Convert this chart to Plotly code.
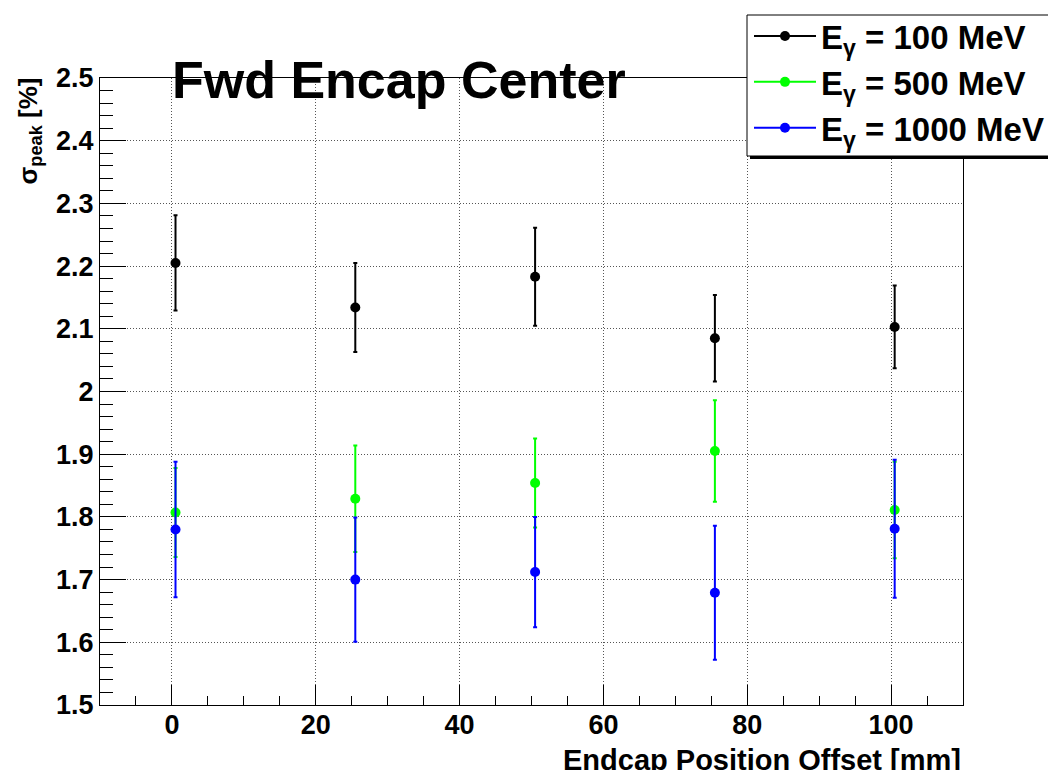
import plotly.graph_objects as go

# ---------------- data ----------------
offsets = [0.5, 25.5, 50.5, 75.5, 100.5]

sigma_100 = [2.205, 2.134, 2.183, 2.085, 2.103]
err_100 = [0.076, 0.071, 0.078, 0.069, 0.066]

sigma_500 = [1.807, 1.829, 1.854, 1.905, 1.811]
err_500 = [0.071, 0.085, 0.071, 0.081, 0.077]

sigma_1000 = [1.780, 1.700, 1.712, 1.679, 1.781]
err_1000 = [0.108, 0.099, 0.088, 0.107, 0.110]

series_names = ["E<sub>γ</sub> = 100 MeV", "E<sub>γ</sub> = 500 MeV", "E<sub>γ</sub> = 1000 MeV"]
series_colors = ["#000000", "#00ff00", "#0000ff"]

x_tickvals = [0, 20, 40, 60, 80, 100]
x_ticktext = ["0", "20", "40", "60", "80", "100"]
y_tickvals = [1.5, 1.6, 1.7, 1.8, 1.9, 2.0, 2.1, 2.2, 2.3, 2.4, 2.5]
y_ticktext = ["1.5", "1.6", "1.7", "1.8", "1.9", "2", "2.1", "2.2", "2.3", "2.4", "2.5"]

title_text = "Fwd Encap Center"
x_title = "Endcap Position Offset [mm]"
y_title = "σ<sub>peak</sub> [%]"

FONT = "Liberation Sans"

fig = go.Figure()

all_y = [sigma_100, sigma_500, sigma_1000]
all_e = [err_100, err_500, err_1000]

for name, color, ys, es in zip(series_names, series_colors, all_y, all_e):
    fig.add_trace(go.Scatter(
        x=offsets, y=ys, mode="markers", showlegend=False,
        marker=dict(color=color, size=10, symbol="circle"),
        error_y=dict(type="data", array=es, visible=True, color=color,
                     thickness=2, width=2),
        name=name,
    ))

# legend entries
for name, color in zip(series_names, series_colors):
    fig.add_trace(go.Scatter(
        x=[None], y=[None], mode="lines+markers", name=name,
        marker=dict(color=color, size=10), line=dict(color=color, width=2),
    ))

# page offset (body margin of the html page)
OFF = 8
W, H = 1056 - OFF, 770 - OFF
L, T = 100 - OFF, 78 - OFF
pw, ph = 863, 627
R = W - L - pw
B = H - T - ph

def px2paper_x(px):
    return (px - OFF - L) / pw

def px2paper_y(py):
    return (T + ph - (py - OFF)) / ph

axis_common = dict(
    showline=True, linecolor="#000000", linewidth=1, mirror=True,
    ticks="inside", tickcolor="#000000", tickwidth=1,
    showgrid=True, gridcolor="#555555", gridwidth=1, griddash="1px,2px",
    zeroline=False, automargin=False,
    tickfont=dict(family=FONT, size=27, color="#000000", weight="bold"),
)

fig.update_xaxes(
    range=[-10, 110], tickmode="array", tickvals=x_tickvals, ticktext=x_ticktext,
    ticklen=20, ticklabelstandoff=-4,
    minor=dict(ticks="inside", ticklen=9, dtick=5, tickcolor="#000000", showgrid=False),
    **axis_common,
)
fig.update_yaxes(
    range=[1.5, 2.5], tickmode="array", tickvals=y_tickvals, ticktext=y_ticktext,
    ticklen=26,
    minor=dict(ticks="inside", ticklen=13, dtick=0.02, tickcolor="#000000", showgrid=False),
    **axis_common,
)

# legend shadow and box
fig.add_shape(type="rect", xref="paper", yref="paper",
              x0=px2paper_x(750), x1=px2paper_x(1053),
              y0=px2paper_y(159), y1=px2paper_y(18),
              fillcolor="#000000", line=dict(width=0), layer="above")
fig.add_shape(type="rect", xref="paper", yref="paper",
              x0=px2paper_x(747), x1=px2paper_x(1050),
              y0=px2paper_y(156), y1=px2paper_y(15),
              fillcolor="#ffffff", line=dict(width=1, color="#000000"), layer="above")

fig.update_layout(
    width=W, height=H,
    margin=dict(l=L, r=R, t=T, b=B, autoexpand=False),
    paper_bgcolor="#ffffff", plot_bgcolor="#ffffff",
    showlegend=True,
    legend=dict(
        x=px2paper_x(749), y=px2paper_y(8), xanchor="left", yanchor="top",
        bgcolor="rgba(0,0,0,0)", borderwidth=0,
        font=dict(family=FONT, size=33, color="#000000", weight="bold"),
        tracegroupgap=0, itemwidth=62,
    ),
    annotations=[
        dict(text=title_text, xref="paper", yref="paper",
             x=px2paper_x(170), y=px2paper_y(80), xanchor="left", yanchor="middle",
             showarrow=False,
             font=dict(family=FONT, size=52, color="#000000", weight="bold")),
        dict(text=x_title, xref="paper", yref="paper",
             x=1.0, y=px2paper_y(760), xanchor="right", yanchor="middle",
             showarrow=False,
             font=dict(family=FONT, size=29, color="#000000", weight="bold")),
        dict(text=y_title, xref="paper", yref="paper", textangle=-90,
             x=px2paper_x(29), y=px2paper_y(76), xanchor="center", yanchor="top",
             showarrow=False,
             font=dict(family=FONT, size=26, color="#000000", weight="bold")),
    ],
)

fig.write_html("out.html")
